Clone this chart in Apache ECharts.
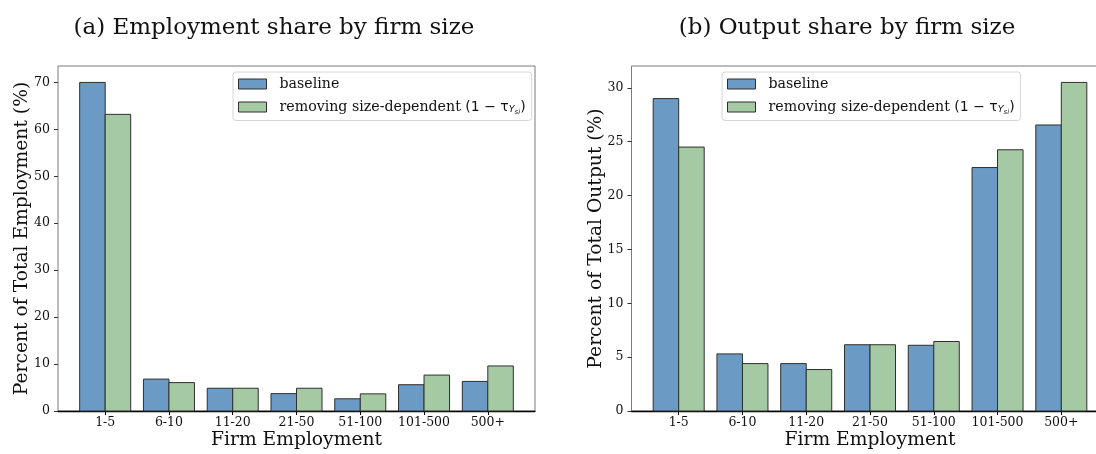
<!DOCTYPE html>
<html>
<head>
<meta charset="utf-8">
<script src="https://cdn.jsdelivr.net/npm/echarts@6/dist/echarts.min.js"></script>
<style>
html,body{margin:0;padding:0;background:#fff;}
#chart{width:1096px;height:454px;}
</style>
</head>
<body>
<div id="chart"></div>
<script>
const categories = ['1-5', '6-10', '11-20', '21-50', '51-100', '101-500', '500+'];
const empBaseline = [70.0, 6.8, 4.85, 3.7, 2.6, 5.6, 6.3];
const empRemoving = [63.2, 6.05, 4.85, 4.85, 3.65, 7.65, 9.6];
const outBaseline = [29.0, 5.3, 4.4, 6.15, 6.1, 22.6, 26.55];
const outRemoving = [24.5, 4.4, 3.85, 6.15, 6.45, 24.25, 30.5];
const empTicks = [0, 10, 20, 30, 40, 50, 60, 70];
const outTicks = [0, 5, 10, 15, 20, 25, 30];
const seriesNames = ['baseline', 'removing size-dependent'];
const titles = ['(a) Employment share by firm size', '(b) Output share by firm size'];
const yNames = ['Percent of Total Employment (%)', 'Percent of Total Output (%)'];
const xName = 'Firm Employment';

const BLUE = '#6B9BC4';
const GREEN = '#A5CAA3';
const EDGE = '#2f2f2f';
const SERIF = 'DejaVu Serif';
const SANS = 'DejaVu Sans';

const chart = echarts.init(document.getElementById('chart'), null, {renderer: 'canvas'});

function barRender(offset, color) {
  return function (params, api) {
    const x = api.value(0), y = api.value(1);
    const p0 = api.coord([x + offset, y]);
    const p1 = api.coord([x + offset + 0.4, 0]);
    return {
      type: 'rect',
      shape: {x: p0[0], y: p0[1], width: p1[0] - p0[0], height: p1[1] - p0[1]},
      style: {fill: color, stroke: EDGE, lineWidth: 1}
    };
  };
}

const idx = categories.map((c, i) => i);
function pairs(arr) { return arr.map((v, i) => [i, v]); }

const grids = [
  {left: 58, top: 66, width: 477, height: 345},
  {left: 631.5, top: 66, width: 477, height: 345}
];

function xAxisFor(gi) {
  return {
    gridIndex: gi, type: 'value', min: -0.74, max: 6.74,
    name: xName, nameLocation: 'middle', nameGap: 20, nameMoveOverlap: false,
    nameTextStyle: {fontFamily: SERIF, fontSize: 18.7, color: '#111', verticalAlign: 'top'},
    axisLine: {show: true, onZero: false, lineStyle: {color: '#000', width: 1.3}},
    axisTick: {show: true, length: 4, customValues: idx, lineStyle: {color: '#000'}},
    axisLabel: {customValues: idx, formatter: v => categories[Math.round(v)], fontFamily: SERIF, fontSize: 12.5, color: '#111', margin: 5},
    splitLine: {show: false}
  };
}
function yAxisFor(gi, data2, interval, nameGap) {
  const mx = Math.max(...data2) * 1.05;
  const ticks = gi === 0 ? empTicks : outTicks;
  return {
    gridIndex: gi, type: 'value', min: 0, max: mx, interval: interval,
    name: yNames[gi], nameLocation: 'middle', nameGap: nameGap, nameMoveOverlap: false,
    nameTextStyle: {fontFamily: SERIF, fontSize: 18.7, color: '#111'},
    axisLine: {show: false, onZero: false},
    axisTick: {show: true, length: 4, customValues: ticks, lineStyle: {color: '#333'}},
    axisLabel: {customValues: ticks, fontFamily: SERIF, fontSize: 12.5, color: '#111', margin: 8},
    splitLine: {show: false}
  };
}

const legendRich = {
  a: {fontFamily: SERIF, fontSize: 14.2, color: '#111', padding: [0, 0, 0, 8]},
  m: {fontFamily: SANS, fontSize: 14, color: '#111'},
  s: {fontFamily: SANS, fontSize: 9.5, fontStyle: 'italic', color: '#111', padding: [6, 0, 0, 0]},
  ss: {fontFamily: SANS, fontSize: 7, fontStyle: 'italic', color: '#111', padding: [10, 0, 0, 0]}
};
function legendFor(left) {
  return {
    left: left, top: 72, orient: 'vertical',
    itemWidth: 28, itemHeight: 10, itemGap: 9,
    padding: [5, 6, 5, 5],
    borderColor: '#d6d6d6', borderWidth: 1, borderRadius: 3,
    backgroundColor: '#fff',
    textStyle: {fontFamily: SERIF, fontSize: 14.2, color: '#111', rich: legendRich},
    formatter: function (name) {
      if (name === seriesNames[0]) return '{a|' + name + '}';
      return '{a|' + name + ' }{m|(1 − τ}{s|Y}{ss|si}{m|)}';
    },
    data: [
      {name: seriesNames[0], icon: 'rect', itemStyle: {color: BLUE, borderColor: EDGE, borderWidth: 1}},
      {name: seriesNames[1], icon: 'rect', itemStyle: {color: GREEN, borderColor: EDGE, borderWidth: 1}}
    ]
  };
}

const option = {
  animation: false,
  backgroundColor: '#fff',
  graphic: [
    {type: 'text', x: 274, y: 28, style: {text: titles[0], fontFamily: SERIF, fontSize: 23, fill: '#111', textAlign: 'center', textVerticalAlign: 'middle'}},
    {type: 'text', x: 847, y: 28, style: {text: titles[1], fontFamily: SERIF, fontSize: 23, fill: '#111', textAlign: 'center', textVerticalAlign: 'middle'}}
  ],
  grid: grids.map(g => Object.assign({show: true, borderColor: '#7a7a7a', borderWidth: 1, backgroundColor: 'transparent', containLabel: false, outerBoundsMode: 'none'}, g)),
  xAxis: [xAxisFor(0), xAxisFor(1)],
  yAxis: [yAxisFor(0, empBaseline.concat(empRemoving), 10, 26), yAxisFor(1, outBaseline.concat(outRemoving), 5, 25.5)],
  legend: [legendFor(233), legendFor(722)],
  series: [
    {type: 'custom', name: seriesNames[0], xAxisIndex: 0, yAxisIndex: 0, data: pairs(empBaseline), renderItem: barRender(-0.4, BLUE), itemStyle: {color: BLUE}, encode: {x: 0, y: 1}},
    {type: 'custom', name: seriesNames[1], xAxisIndex: 0, yAxisIndex: 0, data: pairs(empRemoving), renderItem: barRender(0, GREEN), itemStyle: {color: GREEN}, encode: {x: 0, y: 1}},
    {type: 'custom', name: seriesNames[0], xAxisIndex: 1, yAxisIndex: 1, data: pairs(outBaseline), renderItem: barRender(-0.4, BLUE), itemStyle: {color: BLUE}, encode: {x: 0, y: 1}},
    {type: 'custom', name: seriesNames[1], xAxisIndex: 1, yAxisIndex: 1, data: pairs(outRemoving), renderItem: barRender(0, GREEN), itemStyle: {color: GREEN}, encode: {x: 0, y: 1}}
  ]
};
chart.setOption(option);
</script>
</body>
</html>
